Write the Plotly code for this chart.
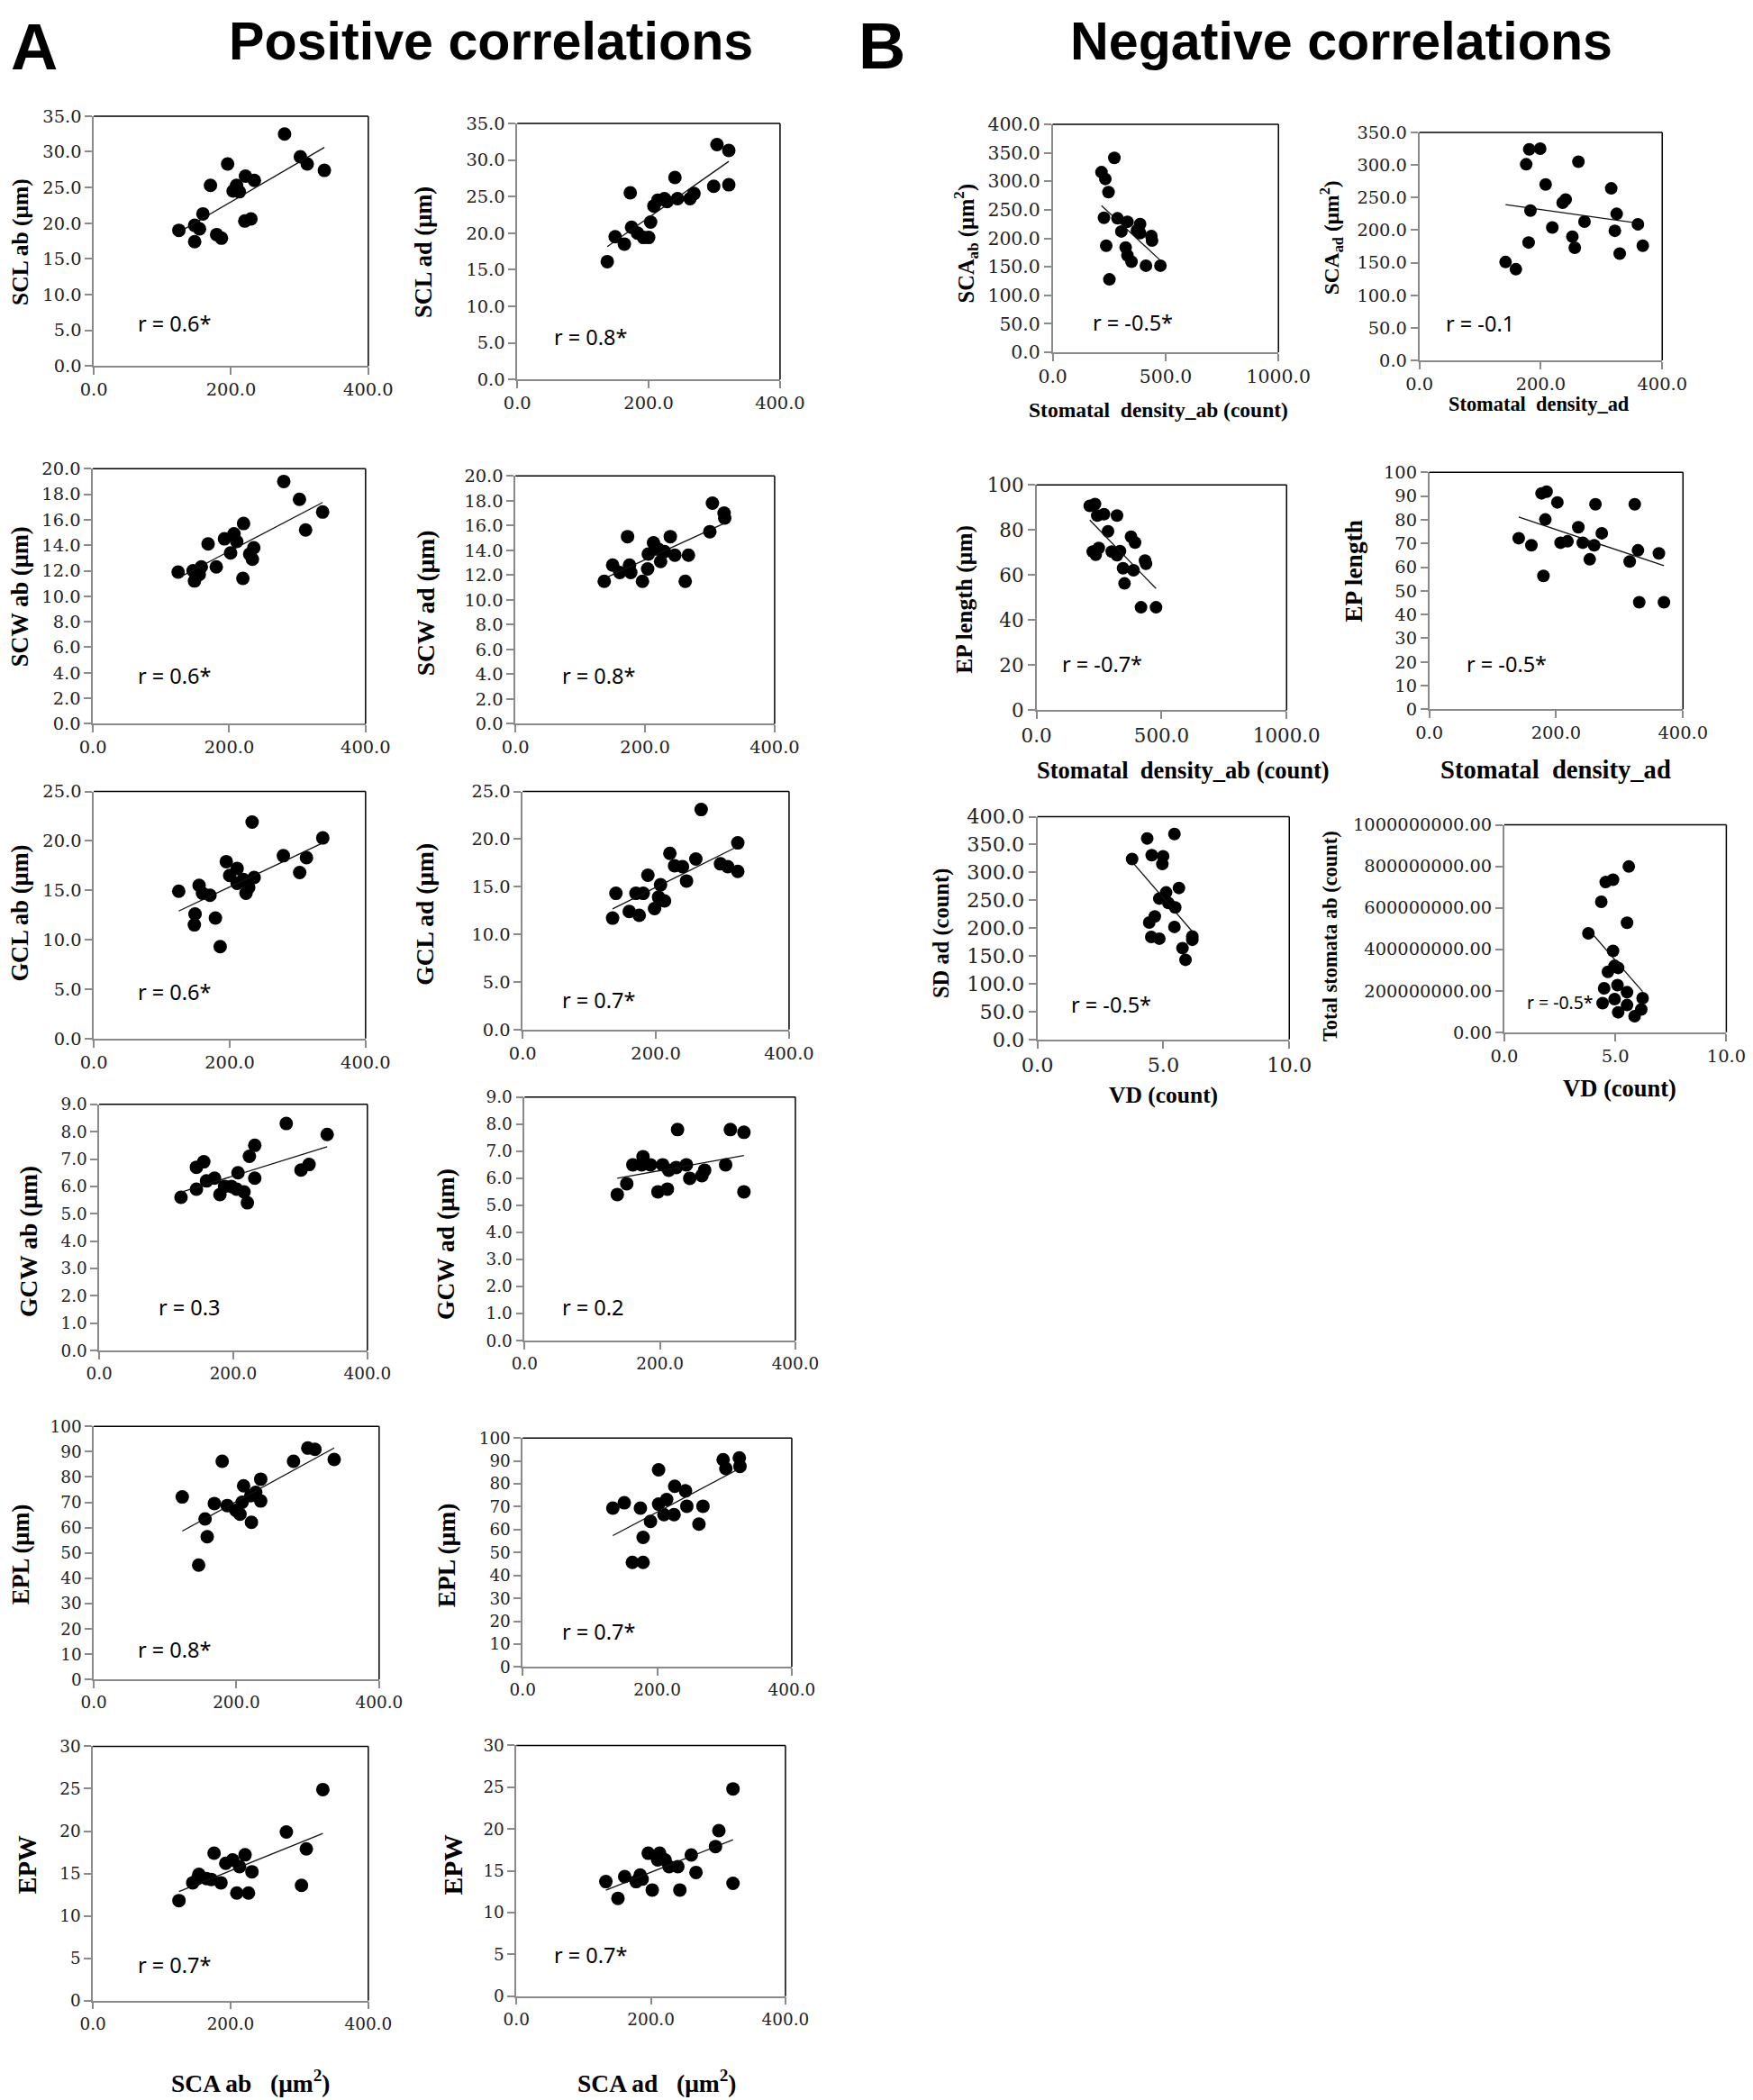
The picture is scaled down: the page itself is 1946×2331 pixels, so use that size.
import numpy as np
import plotly.graph_objects as go

W, H = 1946, 2331          # target picture size
OFF = 8                    # default body margin of the html page
FW, FH = 1985, 2331        # figure size
# observed page -> picture mapping of the renderer (picture = A * page + B)
AX, BX = 0.970, 19.3
AY, BY = 0.988, 11.3
FS = 1.02                  # compensate for the slight shrink of text

# ---------------- data ----------------
# A: positive correlations (x = SCA ab / SCA ad, um^2)
scl_ab_x = [124,147,154,147,159,170,179,186,195,203,208,212,221,220,229,234,278,301,311,336]
scl_ab_y = [19.0,19.7,19.2,17.4,21.3,25.3,18.4,17.9,28.3,24.5,25.3,24.4,26.6,20.3,20.6,26.0,32.5,29.3,28.3,27.4]

scl_ad_x = [137,149,163,172,174,183,192,200,203,208,214,224,228,240,244,263,269,299,304,322,322]
scl_ad_y = [16.1,19.5,18.5,25.5,20.8,20.0,19.4,19.4,21.5,23.7,24.5,24.7,24.3,27.6,24.7,24.7,25.4,26.4,32.1,31.3,26.6]

scw_ab_x = [125,147,149,156,159,169,181,193,202,207,211,221,220,230,236,234,280,303,312,337]
scw_ab_y = [11.9,12.0,11.2,11.7,12.3,14.1,12.3,14.5,13.4,14.9,14.3,15.7,11.4,13.3,13.8,12.9,19.0,17.6,15.2,16.6]

scw_ad_x = [137,150,161,173,176,178,196,204,205,213,220,224,230,239,246,262,267,300,304,322,323]
scw_ad_y = [11.5,12.8,12.2,15.1,12.8,12.2,11.5,12.5,13.7,14.6,14.1,13.1,13.9,15.1,13.6,11.5,13.6,15.5,17.8,17.0,16.6]

gcl_ab_x = [125,155,160,171,149,148,179,186,195,200,211,211,220,224,228,236,233,279,303,313,337]
gcl_ab_y = [14.9,15.5,14.7,14.5,12.6,11.5,12.2,9.3,17.9,16.5,17.2,15.7,16.1,14.7,15.3,16.3,21.9,18.5,16.8,18.3,20.3]

gcl_ad_x = [135,140,160,175,170,181,188,198,207,204,213,221,228,240,246,260,268,297,308,323,323]
gcl_ad_y = [11.7,14.3,12.4,12.0,14.3,14.3,16.2,12.7,15.2,13.9,13.5,18.5,17.2,17.1,15.6,17.9,23.1,17.4,17.1,19.6,16.6]

gcw_ab_x = [122,145,145,156,160,172,180,187,197,207,205,221,224,232,232,279,301,313,340,216]
gcw_ab_y = [5.6,5.9,6.7,6.9,6.2,6.3,5.7,6.0,6.0,6.5,5.9,5.4,7.1,7.5,6.3,8.3,6.6,6.8,7.9,5.8]

gcw_ad_x = [137,151,160,175,173,186,197,204,211,213,226,224,239,244,262,266,297,304,324,324]
gcw_ad_y = [5.4,5.8,6.5,6.8,6.5,6.5,5.5,6.5,5.6,6.3,7.8,6.4,6.5,6.0,6.1,6.3,6.5,7.8,7.7,5.5]

epl_ab_x = [124,156,159,147,169,180,187,199,205,208,210,220,221,227,234,234,280,300,310,337]
epl_ab_y = [72.1,63.4,56.4,45.2,69.5,86.2,68.7,66.8,65.3,70.0,76.5,72.6,62.1,73.9,70.5,79.1,86.2,91.4,90.9,86.9]

epl_ad_x = [134,151,175,163,179,179,190,202,202,210,214,226,225,242,244,268,262,298,302,322,323]
epl_ad_y = [69.4,71.7,69.4,45.7,45.7,56.6,63.6,86.1,71.1,66.5,73.1,78.9,66.5,76.9,70.2,70.2,62.4,90.5,86.7,91.3,87.6]

epw_ab_x = [125,145,152,165,176,186,193,203,209,213,221,226,231,281,303,310,334,154,172]
epw_ab_y = [11.8,13.9,14.4,14.4,17.4,13.9,16.2,16.6,12.7,15.8,17.2,12.7,15.2,19.9,13.6,17.9,24.9,14.9,14.3]

epw_ad_x = [133,151,161,178,187,196,202,213,221,227,240,243,260,267,296,301,322,322,210,184]
epw_ad_y = [13.7,11.7,14.3,13.7,14.0,17.1,12.7,17.1,16.3,15.5,15.5,12.7,16.9,14.8,17.9,19.8,24.8,13.5,16.3,14.5]

# B: negative correlations
sd_ab_sca_x = [216,233,273,247,227,237,251,287,304,331,323,331,349,387,387,413,437,440,477,373]
sd_ab_sca_y = [316,304,341,281,236,187,128,235,212,229,184,170,159,225,209,152,204,196,152,214]

sd_ad_sca_x = [142,159,176,181,199,183,180,208,219,236,241,252,256,262,272,316,325,322,330,360,368]
sd_ad_sca_y = [151,140,301,324,325,230,181,270,204,242,247,190,173,305,213,264,225,199,164,209,176]

sd_ab_ep_x = [213,234,243,270,322,286,225,249,237,301,334,322,346,352,378,394,388,434,438,418,478]
sd_ab_ep_y = [90.7,91.5,86.4,87.0,86.4,79.4,70.4,72.0,69.0,70.4,70.6,68.8,63.0,56.3,77.0,74.4,62.1,66.4,65.0,45.7,45.7]

sd_ad_ep_x = [141,161,177,185,183,180,202,207,218,235,242,253,260,262,272,316,324,329,331,362,370]
sd_ad_ep_y = [72.2,69.2,91.1,91.8,80.1,56.3,87.3,70.3,70.9,76.8,70.3,63.3,69.2,86.5,74.3,62.4,86.5,67.1,45.2,65.8,45.2]

vd_sd_x = [3.76,4.36,4.54,4.99,4.96,5.44,5.62,4.84,5.11,5.20,5.47,4.66,4.44,5.44,4.52,4.84,6.15,6.15,5.76,5.88]
vd_sd_y = [324,361,331,329,315,369,272,253,264,245,237,221,210,202,184,181,185,179,164,143]

vd_tot_x = [3.79,4.37,4.57,4.90,5.61,5.53,4.90,4.97,4.67,5.13,4.50,5.10,5.53,4.43,4.97,5.13,5.53,5.87,6.23,6.17]
vd_tot_y = [477e6,629e6,724e6,735e6,799e6,528e6,392e6,320e6,291e6,310e6,212e6,227e6,193e6,140e6,160e6,96e6,131e6,77e6,164e6,110e6]

r_labels = ["r = 0.6*", "r = 0.8*", "r = 0.6*", "r = 0.8*", "r = 0.6*", "r = 0.7*",
            "r = 0.3", "r = 0.2", "r = 0.8*", "r = 0.7*", "r = 0.7*", "r = 0.7*",
            "r = -0.5*", "r = -0.1", "r = -0.7*", "r = -0.5*", "r = -0.5*", "r = -0.5*"]

y_titles = ["SCL ab (μm)", "SCL ad (μm)", "SCW ab (μm)", "SCW ad (μm)", "GCL ab (μm)", "GCL ad (μm)",
            "GCW ab (μm)", "GCW ad (μm)", "EPL (μm)", "EPL (μm)", "EPW", "EPW",
            "SCA<sub>ab</sub> (μm<sup>2</sup>)", "SCA<sub>ad</sub> (μm<sup>2</sup>)",
            "EP length (μm)", "EP length", "SD ad (count)", "Total stomata ab (count)"]

# ---------------- layout configuration (target picture pixel coordinates) ----------------
panels = [
    dict(d=(scl_ab_x, scl_ab_y), box=(105, 409, 127, 404), xr=400, xd=200, yr=35, yd=5, yf=".1f", xf=".1f",
         rp=(152, 357), yt=(23, 266, 25), tf=19),
    dict(d=(scl_ad_x, scl_ad_y), box=(574, 865, 135, 419), xr=400, xd=200, yr=35, yd=5, yf=".1f", xf=".1f",
         rp=(613, 372), yt=(470, 278, 26), tf=19),
    dict(d=(scw_ab_x, scw_ab_y), box=(104, 406, 518, 801), xr=400, xd=200, yr=20, yd=2, yf=".1f", xf=".1f",
         rp=(152, 748), yt=(23, 660, 26), tf=19),
    dict(d=(scw_ad_x, scw_ad_y), box=(572, 859, 526, 801), xr=400, xd=200, yr=20, yd=2, yf=".1f", xf=".1f",
         rp=(622, 748), yt=(472, 667, 27), tf=19),
    dict(d=(gcl_ab_x, gcl_ab_y), box=(105, 406, 876, 1150), xr=400, xd=200, yr=25, yd=5, yf=".1f", xf=".1f",
         rp=(152, 1098), yt=(23, 1011, 26), tf=19),
    dict(d=(gcl_ad_x, gcl_ad_y), box=(580, 875, 876, 1140), xr=400, xd=200, yr=25, yd=5, yf=".1f", xf=".1f",
         rp=(622, 1107), yt=(472, 1012, 27), tf=19),
    dict(d=(gcw_ab_x, gcw_ab_y), box=(111, 408, 1223, 1496), xr=400, xd=200, yr=9, yd=1, yf=".1f", xf=".1f",
         rp=(175, 1448), yt=(33, 1375, 27), tf=18),
    dict(d=(gcw_ad_x, gcw_ad_y), box=(582, 882, 1215, 1485), xr=400, xd=200, yr=9, yd=1, yf=".1f", xf=".1f",
         rp=(622, 1448), yt=(495, 1378, 27), tf=18),
    dict(d=(epl_ab_x, epl_ab_y), box=(105, 421, 1580, 1861), xr=400, xd=200, yr=100, yd=10, yf="d", xf=".1f",
         rp=(152, 1828), yt=(24, 1722, 26), tf=18),
    dict(d=(epl_ad_x, epl_ad_y), box=(580, 878, 1593, 1847), xr=400, xd=200, yr=100, yd=10, yf="d", xf=".1f",
         rp=(622, 1808), yt=(495, 1723, 27), tf=18),
    dict(d=(epw_ab_x, epw_ab_y), box=(104, 409, 1935, 2217), xr=400, xd=200, yr=30, yd=5, yf="d", xf=".1f",
         rp=(152, 2177), yt=(32, 2066, 28), tf=18),
    dict(d=(epw_ad_x, epw_ad_y), box=(573, 871, 1934, 2212), xr=400, xd=200, yr=30, yd=5, yf="d", xf=".1f",
         rp=(613, 2166), yt=(502, 2066, 29), tf=18),
    dict(d=(sd_ab_sca_x, sd_ab_sca_y), box=(1167, 1417, 136, 389), xr=1000, xd=500, yr=400, yd=50, yf=".1f", xf=".1f",
         rp=(1209, 356), yt=(1071, 268, 24), tf=20),
    dict(d=(sd_ad_sca_x, sd_ad_sca_y), box=(1573, 1842, 145, 398), xr=400, xd=200, yr=350, yd=50, yf=".1f", xf=".1f",
         rp=(1600, 357), yt=(1476, 262, 23), tf=19),
    dict(d=(sd_ab_ep_x, sd_ab_ep_y), box=(1149, 1426, 536, 786), xr=1000, xd=500, yr=100, yd=20, yf="d", xf=".1f",
         rp=(1175, 735), yt=(1069, 663, 25), tf=21),
    dict(d=(sd_ad_ep_x, sd_ad_ep_y), box=(1584, 1865, 522, 785), xr=400, xd=200, yr=100, yd=10, yf="d", xf=".1f",
         rp=(1623, 735), yt=(1500, 631, 27), tf=19),
    dict(d=(vd_sd_x, vd_sd_y), box=(1150, 1429, 904, 1151), xr=10, xd=5, yr=400, yd=50, yf=".1f", xf=".1f",
         rp=(1185, 1112), yt=(1043, 1033, 24), tf=22),
    dict(d=(vd_tot_x, vd_tot_y), box=(1667, 1913, 913, 1143), xr=10, xd=5, yr=1e9, yd=2e8, yf=".2f", xf=".1f",
         rp=(1690, 1110), yt=(1474, 1036, 22), tf=19),
]

x_titles = [
    ("SCA ab   (μm<sup>2</sup>)", 279, 2307, 27),
    ("SCA ad   (μm<sup>2</sup>)", 729, 2307, 27),
    ("Stomatal  density_ab (count)", 1284, 453, 23),
    ("Stomatal  density_ad", 1706, 446, 22),
    ("Stomatal  density_ab (count)", 1312, 852, 26),
    ("Stomatal  density_ad", 1724, 852, 28),
    ("VD (count)", 1290, 1213, 25),
    ("VD (count)", 1795, 1205, 26),
]


def px(x):
    page = (x - BX) / AX
    return (page - OFF) / FW


def py(y):
    page = (y - BY) / AY
    return 1 - (page - OFF) / FH


def fsz(s):
    return round(s * FS, 1)


fig = go.Figure()
layout = dict(width=FW, height=FH, margin=dict(l=0, r=0, t=0, b=0),
              paper_bgcolor="white", plot_bgcolor="white", showlegend=False)
shapes = []
annotations = []

axis_gray = "#8a8a8a"
tick_font = "DejaVu Serif"
title_font = "Liberation Serif"

for i, p in enumerate(panels, start=1):
    xs, ys = p["d"]
    x0, x1, y0, y1 = p["box"]
    sfx = "" if i == 1 else str(i)
    msize = 15 if i <= 12 else 14
    fig.add_trace(go.Scatter(x=xs, y=ys, mode="markers", xaxis="x" + sfx, yaxis="y" + sfx,
                             marker=dict(color="black", size=msize, line=dict(width=0)),
                             cliponaxis=False))
    # linear trendline (least squares) spanning the data
    k, b = np.polyfit(np.array(xs, float), np.array(ys, float), 1)
    lx = np.array([min(xs), max(xs)], float)
    fig.add_trace(go.Scatter(x=lx, y=k * lx + b, mode="lines", xaxis="x" + sfx, yaxis="y" + sfx,
                             line=dict(color="#111111", width=1.3)))
    common = dict(showgrid=False, zeroline=False, showline=True, linecolor=axis_gray, linewidth=1.5,
                  ticks="outside", ticklen=8, tickwidth=1.5, tickcolor=axis_gray, tick0=0,
                  tickfont=dict(family=tick_font, size=fsz(p["tf"]), color="#222222"))
    layout["xaxis" + sfx] = dict(common, domain=[px(x0), px(x1)], anchor="y" + sfx,
                                 range=[0, p["xr"]], dtick=p["xd"], tickformat=p["xf"])
    layout["yaxis" + sfx] = dict(common, domain=[py(y1), py(y0)], anchor="x" + sfx,
                                 range=[0, p["yr"]], dtick=p["yd"], tickformat=p["yf"])
    # black top and right frame
    shapes.append(dict(type="line", xref="x" + sfx + " domain", yref="y" + sfx + " domain",
                       x0=0, x1=1, y0=1, y1=1, line=dict(color="black", width=1.5)))
    shapes.append(dict(type="line", xref="x" + sfx + " domain", yref="y" + sfx + " domain",
                       x0=1, x1=1, y0=0, y1=1, line=dict(color="black", width=1.5)))
    # r label
    rx, ry = p["rp"]
    rsize = 19 if i == 18 else 23
    annotations.append(dict(text=r_labels[i - 1], x=px(rx), y=py(ry), xref="paper", yref="paper",
                            xanchor="left", yanchor="middle", showarrow=False,
                            font=dict(family="Noto Sans", size=fsz(rsize), color="black")))
    # y title
    tx, ty, ts = p["yt"]
    annotations.append(dict(text="<b>" + y_titles[i - 1] + "</b>", x=px(tx), y=py(ty),
                            xref="paper", yref="paper", xanchor="center", yanchor="middle",
                            textangle=-90, showarrow=False,
                            font=dict(family=title_font, size=fsz(ts), color="black")))

for txt, cx, cy, fs in x_titles:
    annotations.append(dict(text="<b>" + txt + "</b>", x=px(cx), y=py(cy), xref="paper", yref="paper",
                            xanchor="center", yanchor="middle", showarrow=False,
                            font=dict(family=title_font, size=fsz(fs), color="black")))

# panel headings (centre x, centre y in picture px)
for txt, cx, cy, fs in [("A", 39, 50, 71), ("Positive correlations", 545, 44, 58),
                        ("B", 978, 49, 71), ("Negative correlations", 1487, 44, 58)]:
    annotations.append(dict(text="<b>" + txt + "</b>", x=px(cx), y=py(cy), xref="paper", yref="paper",
                            xanchor="center", yanchor="middle", showarrow=False,
                            font=dict(family="Liberation Sans", size=fsz(fs), color="black")))

layout["shapes"] = shapes
layout["annotations"] = annotations
fig.update_layout(**layout)
fig.write_html("out.html")
